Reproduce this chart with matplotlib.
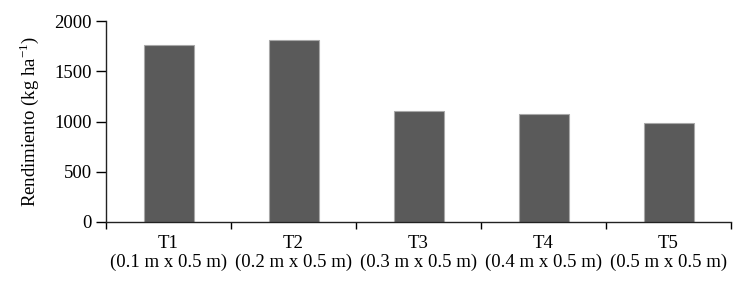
import matplotlib
matplotlib.use("Agg")
import matplotlib.pyplot as plt
import numpy as np

treatments = ["T1", "T2", "T3", "T4", "T5"]
spacings = ["(0.1 m x 0.5 m)", "(0.2 m x 0.5 m)", "(0.3 m x 0.5 m)",
            "(0.4 m x 0.5 m)", "(0.5 m x 0.5 m)"]
yield_kg = [1765, 1808, 1105, 1072, 983]
yticks = [0, 500, 1000, 1500, 2000]

plt.rcParams['font.family'] = ['Liberation Serif', 'DejaVu Serif']
FS = 13.5

fig = plt.figure(figsize=(7.53, 2.87), dpi=100)
ax = fig.add_axes([106/753, 1 - 222/287, (731-106)/753, (222-21)/287])

x = np.arange(len(treatments))
ax.bar(x, yield_kg, width=0.4, color="#5a5a5a", edgecolor="#a8a8a8", linewidth=0.8)

ax.set_xlim(-0.5, len(treatments) - 0.5)
ax.set_ylim(0, 2000)
ax.set_yticks(yticks)
ax.set_yticklabels([str(v) for v in yticks], fontsize=FS)
ax.set_xticks(x)
ax.set_xticklabels([f"{t}\n{s}" for t, s in zip(treatments, spacings)], fontsize=FS,
                   linespacing=1.2)
ax.tick_params(axis='x', which='major', length=0, pad=9)
ax.set_xticks(np.arange(-0.5, len(treatments), 1.0), minor=True)
ax.tick_params(axis='x', which='minor', length=5, width=1.0, direction='out')
ax.tick_params(axis='y', length=7, width=1.0, direction='out', pad=3)

for s in ['top', 'right']:
    ax.spines[s].set_visible(False)
for s in ['left', 'bottom']:
    ax.spines[s].set_linewidth(1.0)
    ax.spines[s].set_color("#222222")

ax.set_ylabel("Rendimiento (kg ha$^{\\mathregular{-1}}$)", fontsize=FS, labelpad=10)

fig.savefig("out.png", dpi=100)
